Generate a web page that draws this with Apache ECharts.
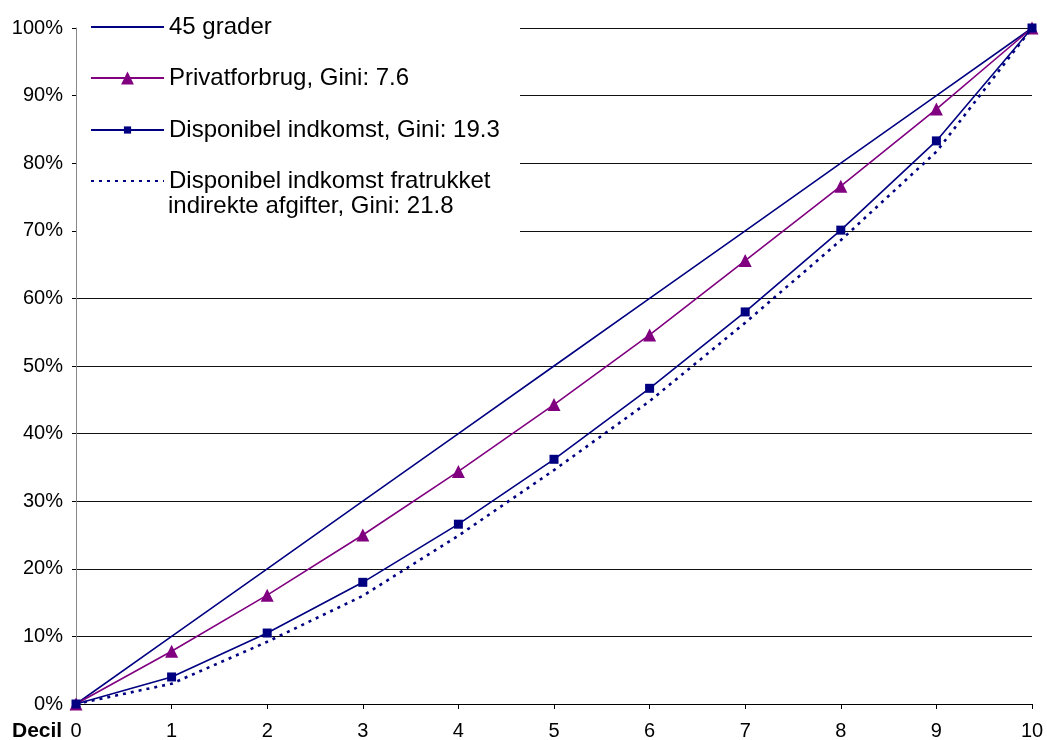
<!DOCTYPE html>
<html>
<head>
<meta charset="utf-8">
<script src="https://cdn.jsdelivr.net/npm/echarts@6/dist/echarts.min.js"></script>
<style>
  html, body { margin: 0; padding: 0; background: #fff; }
  #chart { width: 1047px; height: 740px; }
</style>
</head>
<body>
<div id="chart"></div>
<script>
// Lorenz curves by income decile (cumulative share, %)
const deciles = [0, 1, 2, 3, 4, 5, 6, 7, 8, 9, 10];
const equality = [0, 10, 20, 30, 40, 50, 60, 70, 80, 90, 100];
const privatforbrug = [0, 7.8, 16.1, 25.0, 34.4, 44.3, 54.6, 65.6, 76.6, 88.0, 100];
const disponibel = [0, 4.0, 10.5, 18.0, 26.6, 36.2, 46.7, 58.0, 70.1, 83.3, 100];
const dispFratrukket = [0, 3.0, 9.2, 16.0, 24.9, 34.6, 44.8, 56.4, 68.6, 81.7, 100];

const seriesNames = [
  '45 grader',
  'Privatforbrug, Gini: 7.6',
  'Disponibel indkomst, Gini: 19.3',
  'Disponibel indkomst fratrukket'
];
const lastLegendLine2 = 'indirekte afgifter, Gini: 21.8';

const FONT = '"Liberation Sans", Arial, sans-serif';
const NAVY = '#000080';
const PURPLE = '#800080';

const pairs = (ys) => deciles.map((d, i) => [d, ys[i]]);

// one legend block per entry so every row sits on its own line
function legendRow(name, top, itemHeight, hideSymbol) {
  const item = { name: name };
  if (hideSymbol) item.itemStyle = { opacity: 0, color: 'rgba(0,0,0,0)', borderWidth: 0 };
  return {
    orient: 'vertical',
    left: 90,
    top: top,
    padding: 0,
    itemWidth: 73,
    itemHeight: itemHeight,
    itemGap: 0,
    selectedMode: false,
    textStyle: { fontSize: 24, color: '#000', fontFamily: FONT, lineHeight: 26 },
    data: [item]
  };
}

const chart = echarts.init(document.getElementById('chart'), null, { renderer: 'canvas' });

chart.setOption({
  animation: false,
  backgroundColor: '#ffffff',
  textStyle: { fontFamily: FONT },
  grid: { left: 76, right: 15, top: 28, bottom: 36, containLabel: false, outerBoundsMode: 'none' },
  xAxis: {
    type: 'value',
    min: 0, max: 10, interval: 1,
    axisLine: { show: true, lineStyle: { color: '#000', width: 1 } },
    axisTick: { show: true, length: 5, lineStyle: { color: '#000' } },
    axisLabel: { color: '#000', fontSize: 20, margin: 17 },
    splitLine: { show: false }
  },
  yAxis: {
    type: 'value',
    min: 0, max: 100, interval: 10,
    axisLine: { show: true, lineStyle: { color: '#888', width: 1 } },
    axisTick: { show: true, length: 4, lineStyle: { color: '#000' } },
    axisLabel: { color: '#000', fontSize: 20, margin: 13, formatter: '{value}%' },
    splitLine: { show: true, lineStyle: { color: '#111', width: 1 } }
  },
  legend: [
    legendRow(seriesNames[0], 14, 16, true),
    legendRow(seriesNames[1], 65, 16, false),
    legendRow(seriesNames[2], 117, 9, false),
    legendRow(seriesNames[3], 168, 16, true)
  ],
  graphic: [
    {
      // white panel behind the legend
      type: 'rect',
      z: 1,
      shape: { x: 77, y: 0, width: 443, height: 233 },
      style: { fill: '#ffffff' }
    },
    {
      type: 'text',
      z: 5,
      left: 168,
      top: 194,
      style: { text: lastLegendLine2, font: '24px ' + FONT, fill: '#000' }
    },
    {
      type: 'text',
      z: 5,
      left: 12,
      top: 721,
      style: { text: 'Decil', font: 'bold 21px ' + FONT, fill: '#000' }
    }
  ],
  series: [
    {
      name: seriesNames[0],
      type: 'line',
      data: pairs(equality),
      symbol: 'none',
      lineStyle: { color: NAVY, width: 1.6 },
      itemStyle: { color: NAVY },
      z: 2
    },
    {
      name: seriesNames[1],
      type: 'line',
      data: pairs(privatforbrug),
      symbol: 'triangle',
      symbolSize: 13,
      lineStyle: { color: PURPLE, width: 1.6 },
      itemStyle: { color: PURPLE },
      z: 3
    },
    {
      name: seriesNames[3],
      type: 'line',
      data: pairs(dispFratrukket),
      symbol: 'none',
      lineStyle: { color: NAVY, width: 2.6, type: [3, 5] },
      itemStyle: { color: NAVY },
      z: 4
    },
    {
      name: seriesNames[2],
      type: 'line',
      data: pairs(disponibel),
      symbol: 'rect',
      symbolSize: 9,
      lineStyle: { color: NAVY, width: 1.6 },
      itemStyle: { color: NAVY },
      z: 5
    }
  ]
});
</script>
</body>
</html>
